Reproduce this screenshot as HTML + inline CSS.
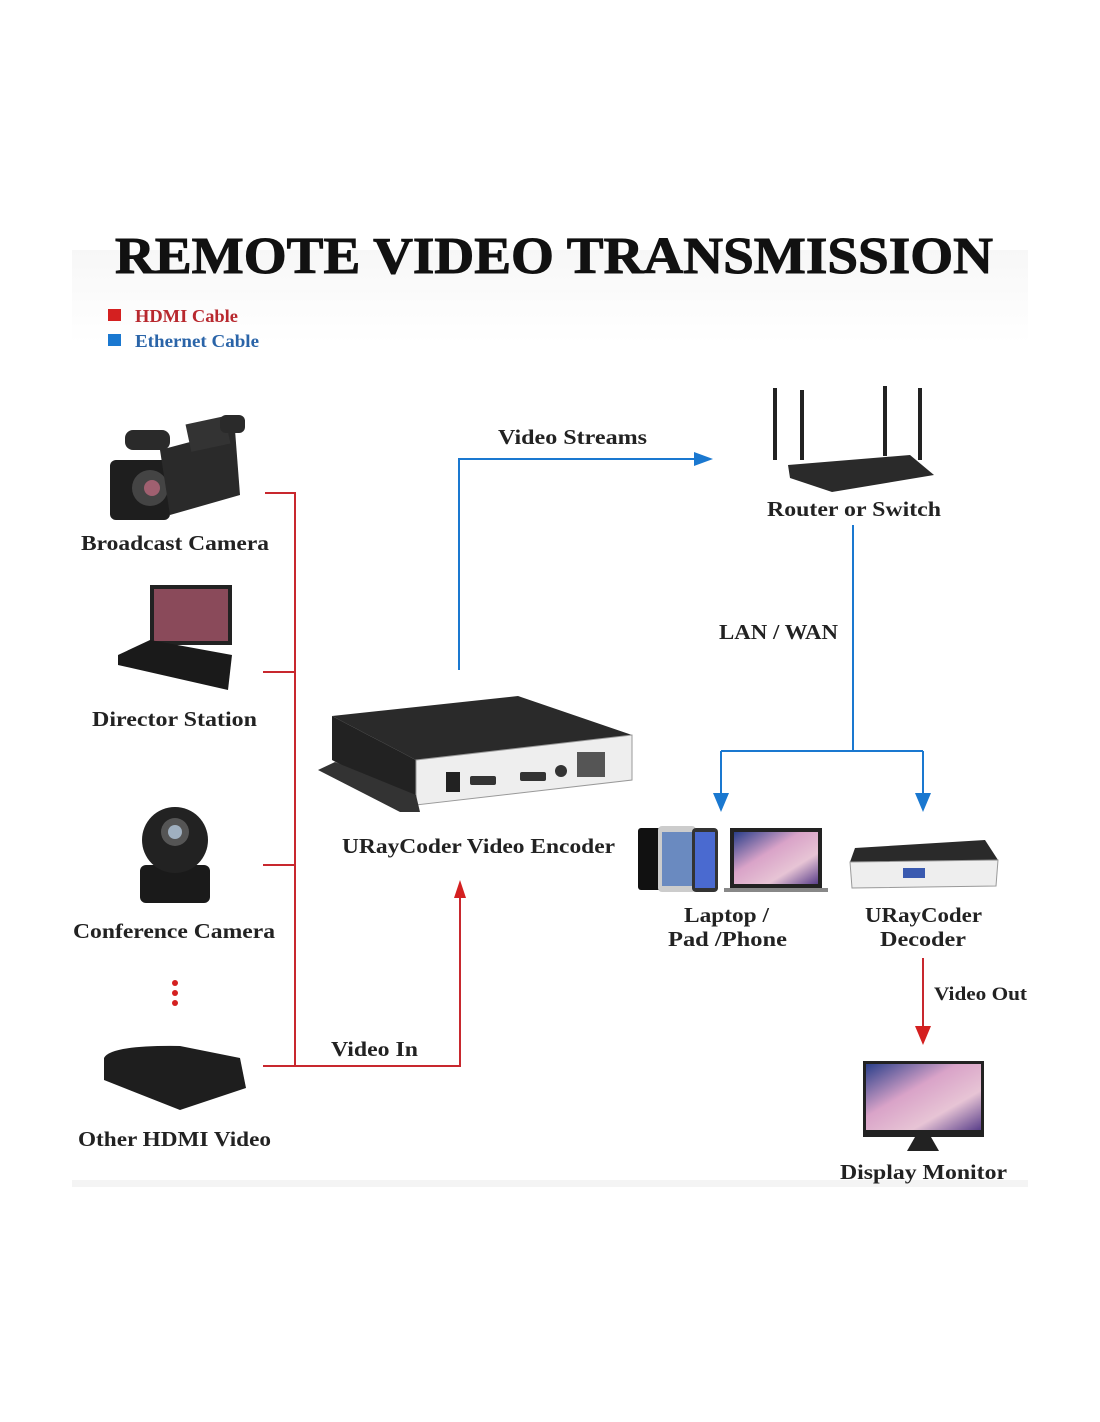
<!DOCTYPE html>
<html><head><meta charset="utf-8"><style>
body{margin:0;background:#fff}
svg{display:block}
text{font-family:"Liberation Serif",serif;font-weight:bold}
</style></head><body>
<svg width="1100" height="1422" viewBox="0 0 1100 1422">
<defs>
<linearGradient id="bg" x1="0" y1="0" x2="0" y2="1"><stop offset="0" stop-color="#f7f7f7"/><stop offset="0.1" stop-color="#fff"/><stop offset="1" stop-color="#fff"/></linearGradient>
<linearGradient id="scr" x1="0" y1="0" x2="1" y2="1"><stop offset="0" stop-color="#2a3f8a"/><stop offset="0.4" stop-color="#d9a3c8"/><stop offset="0.7" stop-color="#e7c4d5"/><stop offset="1" stop-color="#5a3f8a"/></linearGradient>
</defs>
<rect x="72" y="250" width="956" height="937" fill="url(#bg)"/>
<rect x="72" y="1180" width="956" height="7" fill="#f4f4f4"/>
<g lengthAdjust="spacingAndGlyphs">
<text x="115" y="273" font-size="52" fill="#111" textLength="878" lengthAdjust="spacingAndGlyphs" stroke="#111" stroke-width="1">REMOTE VIDEO TRANSMISSION</text>
<rect x="108" y="309" width="13" height="12" fill="#d42020"/>
<text x="135" y="322" font-size="18" fill="#b8282e" textLength="103" lengthAdjust="spacingAndGlyphs">HDMI Cable</text>
<rect x="108" y="334" width="13" height="12" fill="#1a78d0"/>
<text x="135" y="347" font-size="18" fill="#2a64a8" textLength="124" lengthAdjust="spacingAndGlyphs">Ethernet Cable</text>
</g>

<g stroke="#c8282e" stroke-width="2" fill="none">
<path d="M265 493H295V1066"/><path d="M263 672H295"/><path d="M263 865H295"/><path d="M263 1066H460V892"/>
<path d="M923 958V1030"/>
</g>
<path d="M454 898L460 880L466 898Z" fill="#d42020"/>
<path d="M915 1026L923 1045L931 1026Z" fill="#d42020"/>
<g stroke="#1a78d0" stroke-width="2" fill="none">
<path d="M459 670V459H700"/><path d="M853 525V751"/><path d="M721 751H923"/><path d="M721 751V796"/><path d="M923 751V796"/>
</g>
<path d="M694 452L713 459L694 466Z" fill="#1a78d0"/>
<path d="M713 793L721 812L729 793Z" fill="#1a78d0"/>
<path d="M915 793L923 812L931 793Z" fill="#1a78d0"/>

<g fill="#2a2a2a">
<rect x="110" y="460" width="60" height="60" rx="6" fill="#1e1e1e"/>
<circle cx="150" cy="488" r="18" fill="#444"/><circle cx="152" cy="488" r="8" fill="#a06070"/>
<path d="M160 450L235 430L240 495L170 515Z"/>
<rect x="125" y="430" width="45" height="20" rx="8"/>
<rect x="188" y="420" width="40" height="28" fill="#333" transform="rotate(-12 208 434)"/>
<rect x="220" y="415" width="25" height="18" rx="6"/>
</g>
<text x="81" y="550" font-size="21" fill="#222" textLength="188" lengthAdjust="spacingAndGlyphs">Broadcast Camera</text>
<rect x="150" y="585" width="82" height="60" fill="#222"/>
<rect x="154" y="589" width="74" height="52" fill="#8a4a5a"/>
<path d="M118 655L150 640L232 655L228 690L118 665Z" fill="#1a1a1a"/>
<text x="92" y="726" font-size="21" fill="#222" textLength="165" lengthAdjust="spacingAndGlyphs">Director Station</text>
<rect x="140" y="865" width="70" height="38" rx="6" fill="#1a1a1a"/>
<circle cx="175" cy="840" r="33" fill="#222"/><circle cx="175" cy="832" r="14" fill="#555"/><circle cx="175" cy="832" r="7" fill="#a0b0c0"/>
<text x="73" y="938" font-size="21" fill="#222" textLength="202" lengthAdjust="spacingAndGlyphs">Conference Camera</text>
<circle cx="175" cy="983" r="3" fill="#d42020"/><circle cx="175" cy="993" r="3" fill="#d42020"/><circle cx="175" cy="1003" r="3" fill="#d42020"/>
<path d="M104 1058Q110 1045 180 1046L240 1058L246 1088L180 1110L104 1080Z" fill="#1e1e1e"/>
<text x="78" y="1146" font-size="21" fill="#222" textLength="193" lengthAdjust="spacingAndGlyphs">Other HDMI Video</text>
<text x="331" y="1056" font-size="21" fill="#222" textLength="87" lengthAdjust="spacingAndGlyphs">Video In</text>

<path d="M332 716L518 696L632 735L416 760Z" fill="#2a2a2a"/>
<path d="M332 716L416 760L416 805L332 760Z" fill="#222"/>
<path d="M416 760L632 735L632 780L416 805Z" fill="#eee" stroke="#999"/>
<path d="M318 770L335 762L416 795L420 812L400 812Z" fill="#333"/>
<rect x="446" y="772" width="14" height="20" fill="#222"/>
<rect x="470" y="776" width="26" height="9" rx="2" fill="#333"/>
<rect x="520" y="772" width="26" height="9" rx="2" fill="#333"/>
<circle cx="561" cy="771" r="6" fill="#333"/>
<rect x="577" y="752" width="28" height="25" fill="#555"/>
<text x="342" y="853" font-size="21" fill="#222" textLength="273" lengthAdjust="spacingAndGlyphs">URayCoder Video Encoder</text>

<text x="498" y="444" font-size="21" fill="#222" textLength="149" lengthAdjust="spacingAndGlyphs">Video Streams</text>
<rect x="773" y="388" width="4" height="72" fill="#222"/><rect x="800" y="390" width="4" height="70" fill="#222"/>
<rect x="883" y="386" width="4" height="70" fill="#222"/><rect x="918" y="388" width="4" height="72" fill="#222"/>
<path d="M788 465L910 455L934 475L832 492L790 478Z" fill="#2a2a2a"/>
<text x="767" y="516" font-size="21" fill="#222" textLength="174" lengthAdjust="spacingAndGlyphs">Router or Switch</text>
<text x="719" y="639" font-size="21" fill="#222" textLength="119" lengthAdjust="spacingAndGlyphs">LAN / WAN</text>

<rect x="638" y="828" width="24" height="62" rx="3" fill="#111"/>
<rect x="658" y="826" width="38" height="66" rx="4" fill="#ccc"/><rect x="662" y="832" width="30" height="54" fill="#6a8ac0"/>
<rect x="692" y="828" width="26" height="64" rx="4" fill="#333"/><rect x="695" y="832" width="20" height="56" fill="#4a6ad0"/>
<rect x="730" y="828" width="92" height="60" fill="#222"/><rect x="734" y="832" width="84" height="52" fill="url(#scr)"/>
<rect x="724" y="888" width="104" height="4" fill="#888"/>
<text x="684" y="922" font-size="21" fill="#222" textLength="85" lengthAdjust="spacingAndGlyphs">Laptop /</text>
<text x="668" y="946" font-size="21" fill="#222" textLength="119" lengthAdjust="spacingAndGlyphs">Pad /Phone</text>
<path d="M855 848L985 840L998 860L850 862Z" fill="#2a2a2a"/>
<path d="M850 862L998 860L996 886L852 888Z" fill="#eee" stroke="#999"/>
<rect x="903" y="868" width="22" height="10" fill="#3a5ab0"/>
<text x="865" y="922" font-size="21" fill="#222" textLength="117" lengthAdjust="spacingAndGlyphs">URayCoder</text>
<text x="880" y="946" font-size="21" fill="#222" textLength="86" lengthAdjust="spacingAndGlyphs">Decoder</text>
<text x="934" y="1000" font-size="19" fill="#222" textLength="93" lengthAdjust="spacingAndGlyphs">Video Out</text>
<rect x="863" y="1061" width="121" height="76" fill="#222"/><rect x="866" y="1064" width="115" height="66" fill="url(#scr)"/>
<path d="M915 1137h16l8 14h-32z" fill="#222"/>
<text x="840" y="1179" font-size="21" fill="#222" textLength="167" lengthAdjust="spacingAndGlyphs">Display Monitor</text>
</svg>
</body></html>
